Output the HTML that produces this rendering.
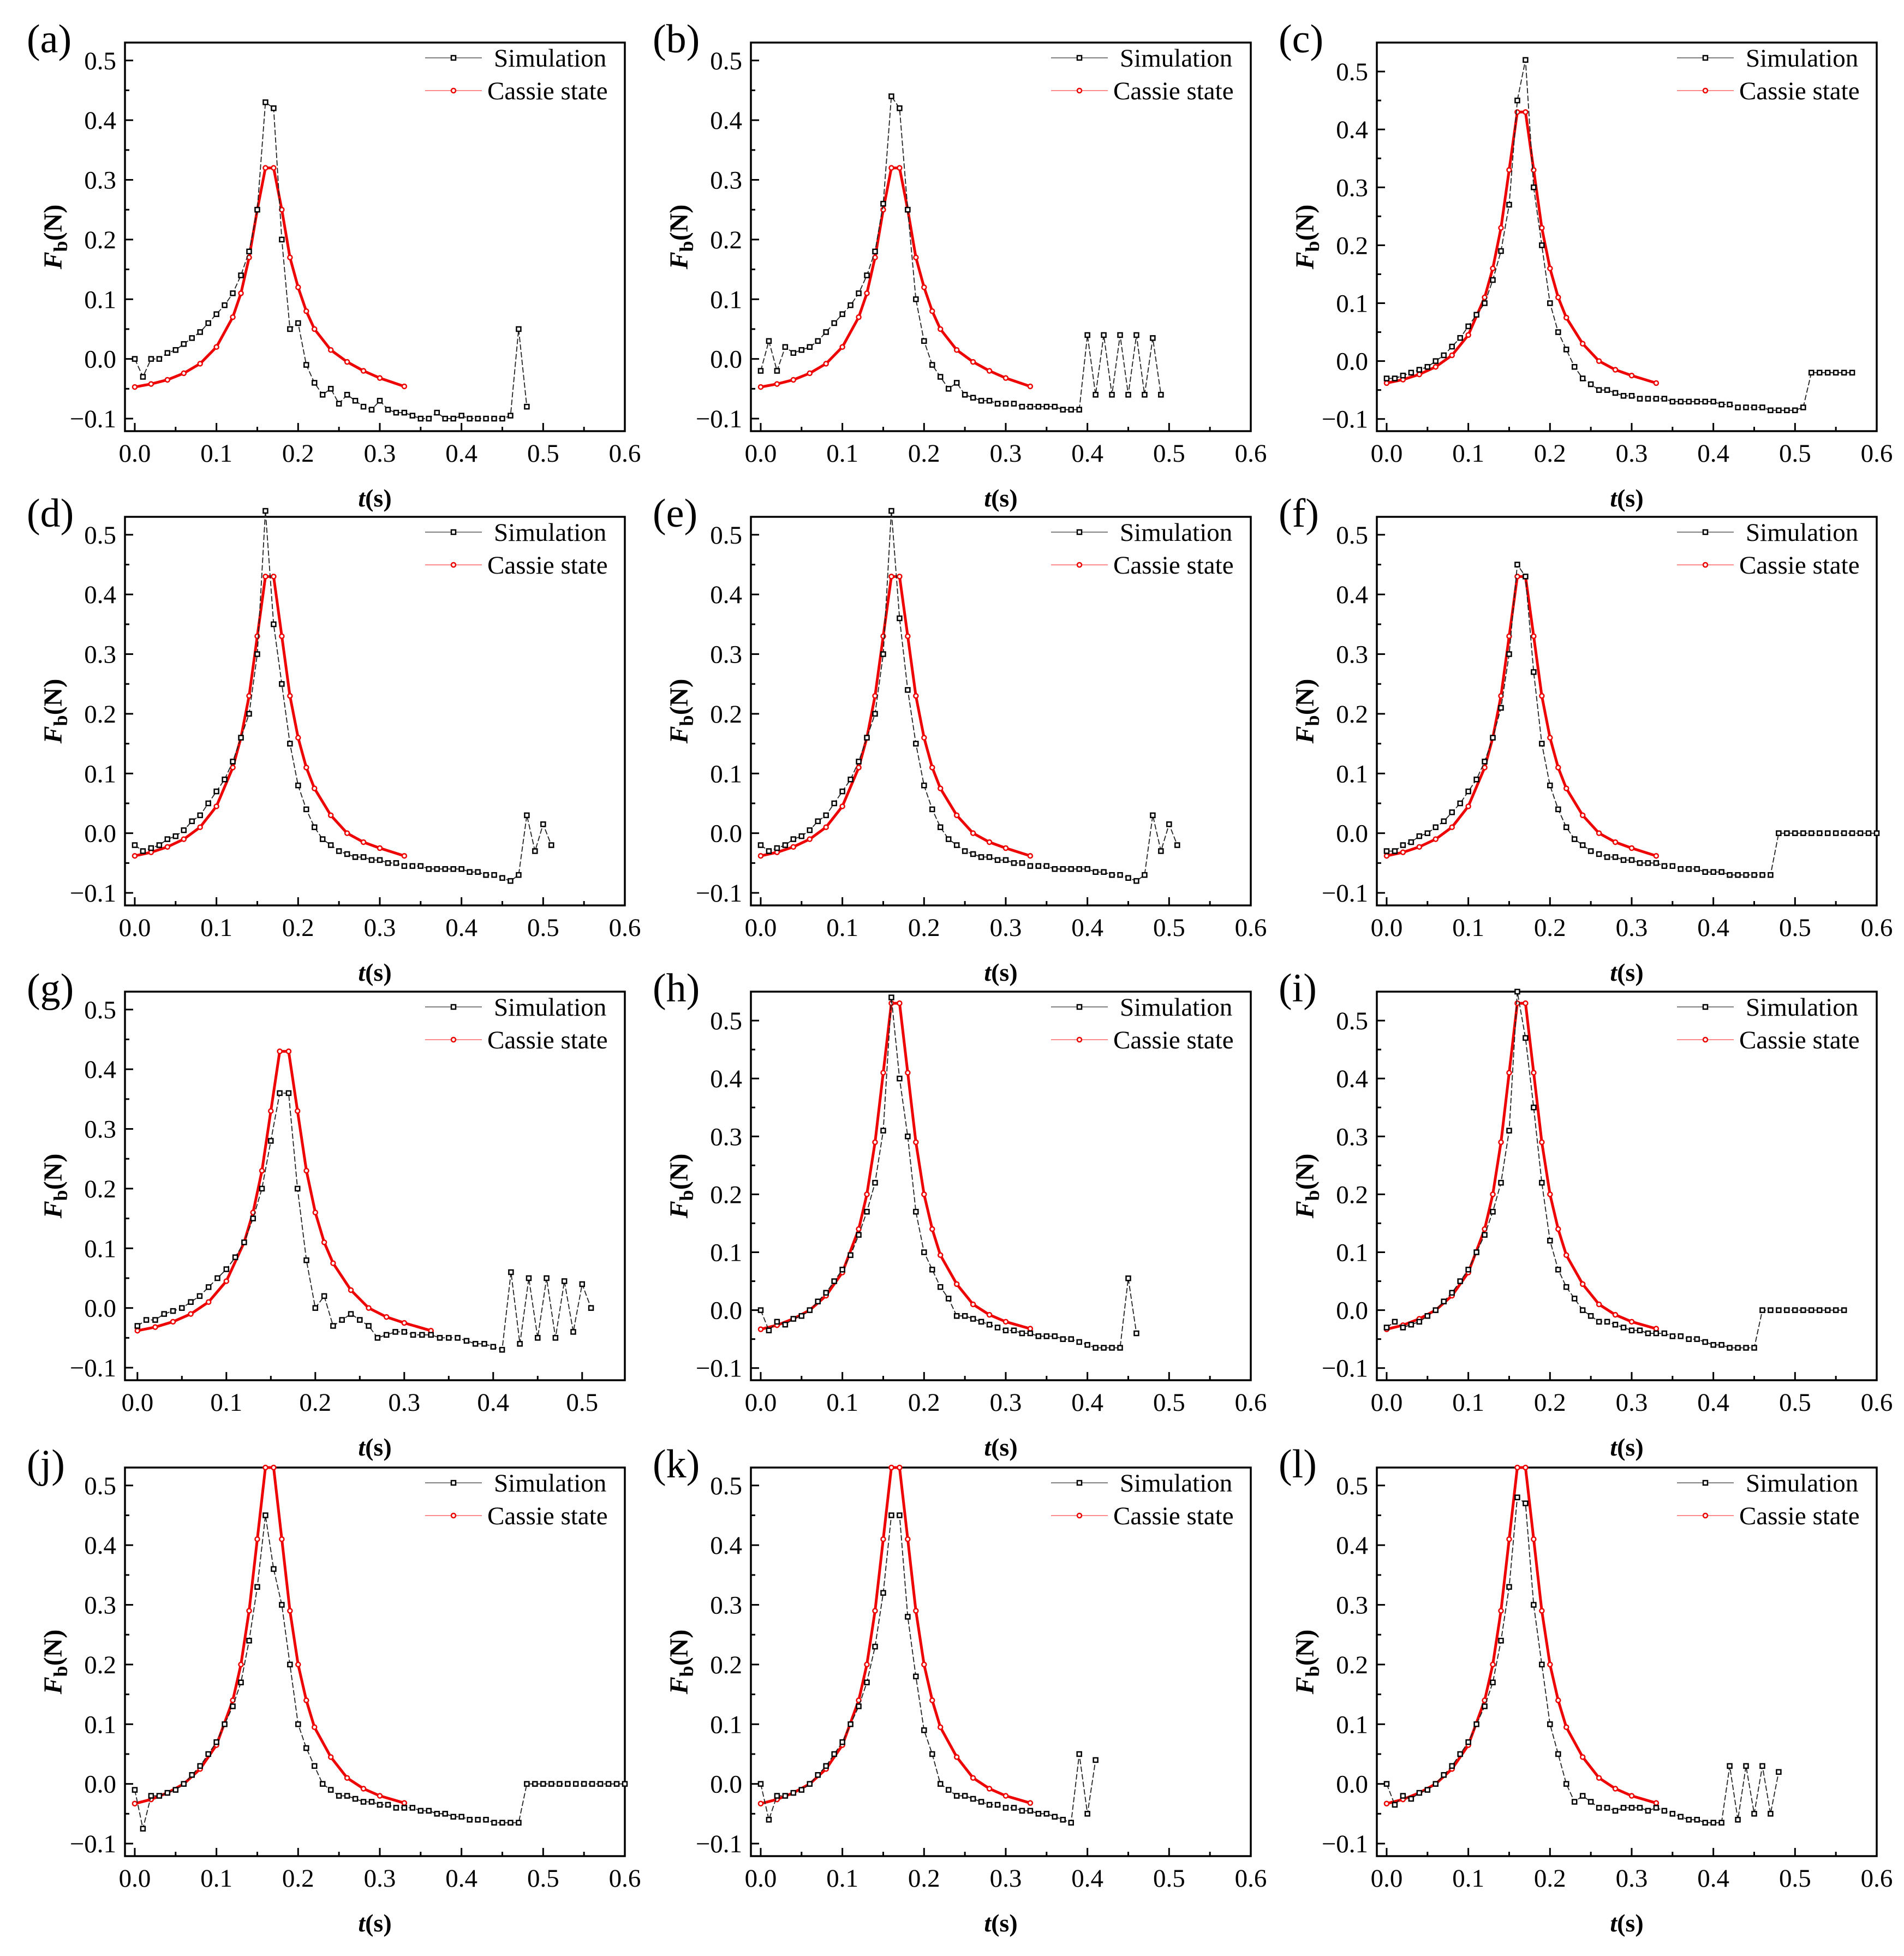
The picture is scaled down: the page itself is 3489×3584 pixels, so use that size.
<!DOCTYPE html>
<html><head><meta charset="utf-8"><style>
html,body{margin:0;padding:0;background:#fff;}
svg{display:block;font-family:"Liberation Serif",serif;}
</style></head><body>
<svg id="fig" width="3489" height="3584" viewBox="0 0 3489 3584" xmlns="http://www.w3.org/2000/svg"></svg>
<script>
// ---- data ----
const simT = [0,0.01,0.02,0.03,0.04,0.05,0.06,0.07,0.08,0.09,0.10,0.11,0.12,0.13,0.14,0.15,0.16,0.17,0.18,0.19,0.20,0.21,0.22,0.23,0.24,0.25,0.26,0.27,0.28,0.29,0.30,0.31,0.32,0.33,0.34,0.35,0.36,0.37,0.38,0.39,0.40,0.41,0.42,0.43,0.44,0.45,0.46,0.47,0.48,0.49,0.50,0.51,0.52,0.53,0.54,0.55,0.56,0.57,0.58,0.59,0.60];
const cassieT = [0,0.02,0.04,0.06,0.08,0.10,0.12,0.13,0.14,0.15,0.16,0.17,0.18,0.19,0.20,0.21,0.22,0.24,0.26,0.28,0.30,0.33];
const cassieA = [-0.047,-0.042,-0.035,-0.024,-0.008,0.02,0.07,0.11,0.17,0.25,0.32,0.32,0.25,0.17,0.12,0.08,0.05,0.015,-0.005,-0.02,-0.032,-0.046];
const cassieB = [-0.038,-0.032,-0.023,-0.01,0.01,0.045,0.11,0.16,0.23,0.33,0.43,0.43,0.33,0.23,0.16,0.11,0.075,0.03,0.0,-0.015,-0.025,-0.038];
const cassieC = [-0.033,-0.026,-0.015,0.0,0.025,0.065,0.14,0.2,0.29,0.41,0.53,0.53,0.41,0.29,0.2,0.14,0.095,0.045,0.01,-0.008,-0.02,-0.032];
const simA = [0.0,-0.03,0.0,0.0,0.01,0.015,0.025,0.035,0.045,0.06,0.075,0.09,0.11,0.14,0.18,0.25,0.43,0.42,0.2,0.05,0.06,-0.01,-0.04,-0.06,-0.05,-0.075,-0.06,-0.07,-0.08,-0.085,-0.07,-0.085,-0.09,-0.09,-0.095,-0.1,-0.1,-0.09,-0.1,-0.1,-0.095,-0.1,-0.1,-0.1,-0.1,-0.1,-0.095,0.05,-0.08];
const simB = [-0.02,0.03,-0.02,0.02,0.01,0.015,0.02,0.03,0.045,0.06,0.075,0.09,0.11,0.14,0.18,0.26,0.44,0.42,0.25,0.1,0.03,-0.01,-0.03,-0.05,-0.04,-0.06,-0.065,-0.07,-0.07,-0.075,-0.075,-0.075,-0.08,-0.08,-0.08,-0.08,-0.08,-0.085,-0.085,-0.085,0.04,-0.06,0.04,-0.06,0.04,-0.06,0.04,-0.06,0.035,-0.06];
const simC = [-0.03,-0.03,-0.025,-0.02,-0.015,-0.01,0.0,0.01,0.025,0.04,0.06,0.08,0.1,0.14,0.19,0.27,0.45,0.52,0.3,0.2,0.1,0.05,0.02,-0.01,-0.03,-0.04,-0.05,-0.05,-0.055,-0.06,-0.06,-0.065,-0.065,-0.065,-0.065,-0.07,-0.07,-0.07,-0.07,-0.07,-0.07,-0.075,-0.075,-0.08,-0.08,-0.08,-0.08,-0.085,-0.085,-0.085,-0.085,-0.08,-0.02,-0.02,-0.02,-0.02,-0.02,-0.02];
const simD = [-0.02,-0.03,-0.025,-0.02,-0.01,-0.005,0.005,0.02,0.03,0.05,0.07,0.09,0.12,0.16,0.2,0.3,0.54,0.35,0.25,0.15,0.08,0.04,0.01,-0.01,-0.02,-0.03,-0.035,-0.04,-0.04,-0.045,-0.045,-0.05,-0.05,-0.055,-0.055,-0.055,-0.06,-0.06,-0.06,-0.06,-0.06,-0.065,-0.065,-0.07,-0.07,-0.075,-0.08,-0.07,0.03,-0.03,0.015,-0.02];
const simE = [-0.02,-0.03,-0.025,-0.02,-0.01,-0.005,0.005,0.02,0.03,0.05,0.07,0.09,0.12,0.16,0.2,0.3,0.54,0.36,0.24,0.15,0.08,0.04,0.01,-0.01,-0.02,-0.03,-0.035,-0.04,-0.04,-0.045,-0.045,-0.05,-0.05,-0.055,-0.055,-0.055,-0.06,-0.06,-0.06,-0.06,-0.06,-0.065,-0.065,-0.07,-0.07,-0.075,-0.08,-0.07,0.03,-0.03,0.015,-0.02];
const simF = [-0.03,-0.03,-0.02,-0.015,-0.005,0.0,0.01,0.02,0.035,0.05,0.07,0.09,0.12,0.16,0.21,0.3,0.45,0.43,0.27,0.15,0.08,0.04,0.01,-0.01,-0.02,-0.03,-0.035,-0.04,-0.04,-0.045,-0.045,-0.05,-0.05,-0.05,-0.055,-0.055,-0.06,-0.06,-0.06,-0.065,-0.065,-0.065,-0.07,-0.07,-0.07,-0.07,-0.07,-0.07,0.0,0.0,0.0,0.0,0.0,0.0,0.0,0.0,0.0,0.0,0.0,0.0,0.0];
const simG = [-0.03,-0.02,-0.02,-0.01,-0.005,0.0,0.01,0.02,0.035,0.05,0.065,0.085,0.11,0.15,0.2,0.28,0.36,0.36,0.2,0.08,0.0,0.02,-0.03,-0.02,-0.01,-0.02,-0.03,-0.05,-0.045,-0.04,-0.04,-0.045,-0.045,-0.045,-0.05,-0.05,-0.05,-0.055,-0.06,-0.06,-0.065,-0.07,0.06,-0.06,0.05,-0.05,0.05,-0.05,0.045,-0.04,0.04,0.0];
const simH = [0.0,-0.035,-0.02,-0.025,-0.015,-0.01,0.0,0.015,0.03,0.05,0.07,0.095,0.13,0.17,0.22,0.31,0.54,0.4,0.3,0.17,0.1,0.07,0.04,0.02,-0.01,-0.01,-0.015,-0.02,-0.025,-0.03,-0.035,-0.035,-0.04,-0.04,-0.045,-0.045,-0.045,-0.05,-0.05,-0.055,-0.06,-0.065,-0.065,-0.065,-0.065,0.055,-0.04];
const simI = [-0.03,-0.02,-0.03,-0.025,-0.02,-0.01,0.0,0.015,0.03,0.05,0.07,0.1,0.13,0.17,0.22,0.31,0.55,0.47,0.35,0.22,0.12,0.07,0.04,0.02,0.0,-0.01,-0.02,-0.02,-0.025,-0.03,-0.035,-0.035,-0.04,-0.04,-0.04,-0.045,-0.045,-0.05,-0.05,-0.055,-0.06,-0.06,-0.065,-0.065,-0.065,-0.065,0.0,0.0,0.0,0.0,0.0,0.0,0.0,0.0,0.0,0.0,0.0];
const simJ = [-0.01,-0.075,-0.02,-0.02,-0.015,-0.01,0.0,0.015,0.03,0.05,0.07,0.1,0.13,0.17,0.24,0.33,0.45,0.36,0.3,0.2,0.1,0.06,0.03,0.0,-0.01,-0.02,-0.02,-0.025,-0.03,-0.03,-0.035,-0.035,-0.04,-0.04,-0.04,-0.045,-0.045,-0.05,-0.05,-0.055,-0.055,-0.06,-0.06,-0.06,-0.065,-0.065,-0.065,-0.065,0.0,0.0,0.0,0.0,0.0,0.0,0.0,0.0,0.0,0.0,0.0,0.0,0.0];
const simK = [0.0,-0.06,-0.02,-0.02,-0.015,-0.01,0.0,0.015,0.03,0.05,0.07,0.1,0.13,0.17,0.23,0.32,0.45,0.45,0.28,0.18,0.09,0.05,0.0,-0.01,-0.02,-0.02,-0.025,-0.03,-0.035,-0.035,-0.04,-0.04,-0.045,-0.045,-0.05,-0.05,-0.055,-0.06,-0.065,0.05,-0.05,0.04];
const simL = [0.0,-0.035,-0.02,-0.025,-0.015,-0.01,0.0,0.015,0.03,0.05,0.07,0.1,0.13,0.17,0.24,0.33,0.48,0.47,0.3,0.2,0.1,0.05,0.0,-0.03,-0.02,-0.03,-0.04,-0.04,-0.045,-0.04,-0.04,-0.04,-0.045,-0.04,-0.045,-0.05,-0.055,-0.06,-0.06,-0.065,-0.065,-0.065,0.03,-0.06,0.03,-0.05,0.03,-0.05,0.02];
const yTicks = [-0.1,0.0,0.1,0.2,0.3,0.4,0.5];
const yTickLabels = ["\u22120.1","0.0","0.1","0.2","0.3","0.4","0.5"];
const xTicks6 = [0,0.1,0.2,0.3,0.4,0.5,0.6];
const xTickLabels6 = ["0.0","0.1","0.2","0.3","0.4","0.5","0.6"];
const xTicks5 = [0,0.1,0.2,0.3,0.4,0.5];
const xTickLabels5 = ["0.0","0.1","0.2","0.3","0.4","0.5"];
const panelLabels = ["(a)","(b)","(c)","(d)","(e)","(f)","(g)","(h)","(i)","(j)","(k)","(l)"];
const panelSims = [simA,simB,simC,simD,simE,simF,simG,simH,simI,simJ,simK,simL];
const panelCassie = [cassieA,cassieA,cassieB,cassieB,cassieB,cassieB,cassieB,cassieC,cassieC,cassieC,cassieC,cassieC];
const panelXmax = [0.6,0.6,0.6,0.6,0.6,0.6,0.548,0.6,0.6,0.6,0.6,0.6];
const panelYmax = [0.53,0.53,0.55,0.53,0.53,0.53,0.53,0.55,0.55,0.53,0.53,0.53];

// ---- drawing ----
const NS = "http://www.w3.org/2000/svg";
const svg = document.getElementById("fig");
function mk(tag, attrs, parent){
  const e = document.createElementNS(NS, tag);
  for (const k in attrs) e.setAttribute(k, attrs[k]);
  (parent||svg).appendChild(e); return e;
}
const colLeft = [229,1376,2523], rowTop = [78,947,1817,2689];
const W = 916, H = 712;

for (let p = 0; p < 12; p++) {
  const L = colLeft[p%3], T = rowTop[Math.floor(p/3)];
  const g = mk("g", {});
  
  
  const xmax = panelXmax[p], ymax = panelYmax[p];
  const short = xmax < 0.59;
  const xmin = short ? -0.014 : -0.012, ymin = -0.121;
  const X = v => L + (v - xmin) / (xmax - xmin) * W;
  const Y = v => T + H - (v - ymin) / (ymax - ymin) * H;

  const pl = mk("text", {x: L-180, y: T+18, "font-size": 74}, g);
  pl.textContent = panelLabels[p];
  
  

  const fr = mk("rect", {x: L, y: T, width: W, height: H, fill: "none", stroke: "#000", "stroke-width": 3.5}, g);
  
  

  for (let i = 0; i < yTicks.length; i++) {
    const y = Y(yTicks[i]);
    mk("line", {x1: L, x2: L+15, y1: y, y2: y, stroke: "#000", "stroke-width": 3}, g);
    const mv = yTicks[i] + 0.05;
    if (mv < ymax) mk("line", {x1: L, x2: L+8, y1: Y(mv), y2: Y(mv), stroke: "#000", "stroke-width": 3}, g);
    const t = mk("text", {x: L-16, y: y+16, "font-size": 47, "text-anchor": "end"}, g);
    t.textContent = yTickLabels[i];
    
    
  }
  const xt = short ? xTicks5 : xTicks6, xl = short ? xTickLabels5 : xTickLabels6;
  for (let i = 0; i < xt.length; i++) {
    const x = X(xt[i]);
    mk("line", {x1: x, x2: x, y1: T+H, y2: T+H-15, stroke: "#000", "stroke-width": 3}, g);
    if (xt[i] + 0.05 < xmax) { const mx = X(xt[i]+0.05); mk("line", {x1: mx, x2: mx, y1: T+H, y2: T+H-8, stroke: "#000", "stroke-width": 3}, g); }
    const t = mk("text", {x: x, y: T+H+56, "font-size": 47, "text-anchor": "middle"}, g);
    t.textContent = xl[i];
    
    
  }
  const xa = mk("text", {x: L+W/2, y: T+H+138, "font-size": 46, "font-weight": "bold", "text-anchor": "middle"}, g);
  xa.innerHTML = '<tspan font-style="italic">t</tspan>(s)';
  
  
  const ya = mk("text", {x: 0, y: 0, "font-size": 48, "font-weight": "bold", "text-anchor": "middle", transform: `translate(${L-116},${T+H/2}) rotate(-90)`}, g);
  ya.innerHTML = '<tspan font-style="italic">F</tspan><tspan font-size="36" dy="10">b</tspan><tspan dy="-10">(N)</tspan>';
  
  

  const cv = panelCassie[p];
  let d = "";
  for (let i = 0; i < cassieT.length; i++) d += (i ? "L" : "M") + X(cassieT[i]).toFixed(1) + "," + Y(cv[i]).toFixed(1);
  const cl = mk("path", {d: d, fill: "none", stroke: "#e00", "stroke-width": 5, "stroke-linejoin": "round"}, g);
  
  
  for (let i = 0; i < cassieT.length; i++) {
    const c = mk("circle", {cx: X(cassieT[i]), cy: Y(cv[i]), r: 4, fill: "#fff", stroke: "#e00", "stroke-width": 2.5}, g);
    
    
  }

  const sv = panelSims[p];
  d = "";
  for (let i = 0; i < sv.length; i++) d += (i ? "L" : "M") + X(simT[i]).toFixed(1) + "," + Y(sv[i]).toFixed(1);
  const sl = mk("path", {d: d, fill: "none", stroke: "#222", "stroke-width": 1.8, "stroke-dasharray": "10,4"}, g);
  
  
  for (let i = 0; i < sv.length; i++) {
    const s = mk("rect", {x: X(simT[i])-4, y: Y(sv[i])-4, width: 8, height: 8, fill: "#fff", stroke: "#000", "stroke-width": 2.5}, g);
    
    
  }

  const lg = mk("g", {}, g);
  
  
  const lx1 = L+W-366, lx2 = L+W-262, ly1 = T+28, ly2 = T+88;
  mk("line", {x1: lx1, x2: lx2, y1: ly1, y2: ly1, stroke: "#555", "stroke-width": 1.5}, lg);
  mk("rect", {x: (lx1+lx2)/2-4, y: ly1-4, width: 8, height: 8, fill: "#fff", stroke: "#000", "stroke-width": 2.5}, lg);
  mk("line", {x1: lx1, x2: lx2, y1: ly2, y2: ly2, stroke: "#f66", "stroke-width": 1.5}, lg);
  mk("circle", {cx: (lx1+lx2)/2, cy: ly2, r: 4, fill: "#fff", stroke: "#e00", "stroke-width": 2.5}, lg);
  const t1 = mk("text", {x: L+W-240, y: ly1+16, "font-size": 47}, lg);
  t1.textContent = "Simulation";
  
  
  const t2 = mk("text", {x: L+W-252, y: ly2+16, "font-size": 47}, lg);
  t2.textContent = "Cassie state";
  
  
}
</script>
</body></html>
